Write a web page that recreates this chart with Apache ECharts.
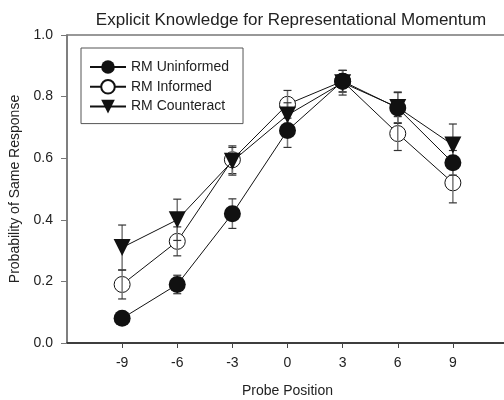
<!DOCTYPE html>
<html>
<head>
<meta charset="utf-8">
<script src="https://cdn.jsdelivr.net/npm/echarts@6/dist/echarts.min.js"></script>
<style>
  html, body { margin: 0; padding: 0; background: #fff; }
  #chart { width: 504px; height: 400px; }
</style>
</head>
<body>
<div id="chart"></div>
<script>
const FONT_FAMILY = "'Liberation Sans', Arial, sans-serif"

const probePositions = [-9, -6, -3, 0, 3, 6, 9]
const uninformed = [0.08, 0.19, 0.42, 0.69, 0.85, 0.763, 0.585]
const uninformedErr = [0.01, 0.03, 0.048, 0.055, 0.035, 0.05, 0.04]
const informed = [0.19, 0.33, 0.595, 0.775, 0.85, 0.68, 0.52]
const informedErr = [0.047, 0.047, 0.045, 0.045, 0.035, 0.055, 0.065]
const counteract = [0.31, 0.40, 0.59, 0.74, 0.845, 0.765, 0.643]
const counteractErr = [0.073, 0.067, 0.045, 0.04, 0.04, 0.05, 0.068]

function points(values) {
  return probePositions.map((x, i) => [x, values[i]])
}

function errorRanges(values, errs) {
  return probePositions.map((x, i) => [x, values[i] - errs[i], values[i] + errs[i]])
}

function renderErrorBar(params, api) {
  const x = api.value(0)
  const lo = api.coord([x, api.value(1)])
  const hi = api.coord([x, api.value(2)])
  const w = 4
  return {
    type: 'group',
    children: [
      { type: 'line', shape: { x1: lo[0], y1: lo[1], x2: hi[0], y2: hi[1] }, style: { stroke: '#777', lineWidth: 1.5 } },
      { type: 'line', shape: { x1: lo[0] - w, y1: lo[1], x2: lo[0] + w, y2: lo[1] }, style: { stroke: '#333', lineWidth: 1.2 } },
      { type: 'line', shape: { x1: hi[0] - w, y1: hi[1], x2: hi[0] + w, y2: hi[1] }, style: { stroke: '#333', lineWidth: 1.2 } },
    ],
  }
}

function errorSeries(values, errs, z) {
  return {
    type: 'custom',
    renderItem: renderErrorBar,
    data: errorRanges(values, errs),
    z: z,
    silent: true,
  }
}

const chart = echarts.init(document.getElementById('chart'), null, { renderer: 'canvas' })

chart.setOption({
  animation: false,
  textStyle: { fontFamily: FONT_FAMILY },
  title: {
    text: 'Explicit Knowledge for Representational Momentum',
    left: 286,
    textAlign: 'center',
    top: 7,
    textStyle: { fontFamily: FONT_FAMILY, fontSize: 17, fontWeight: 'normal', color: '#222' },
  },
  grid: {
    left: 67, top: 35, width: 441, height: 308,
    outerBoundsMode: 'none',
    show: true, borderColor: '#777', borderWidth: 1.5, backgroundColor: 'transparent',
  },
  legend: {
    orient: 'vertical',
    left: 81, top: 48,
    padding: [12, 14, 10, 8],
    itemGap: 5,
    itemWidth: 36, itemHeight: 17,
    borderColor: '#555', borderWidth: 1,
    data: ['RM Uninformed', 'RM Informed', 'RM Counteract'],
    textStyle: { fontFamily: FONT_FAMILY, fontSize: 14, color: '#222' },
  },
  xAxis: {
    type: 'value',
    min: -12, max: 12, interval: 3,
    name: 'Probe Position',
    nameLocation: 'middle',
    nameGap: 41,
    nameTextStyle: { fontFamily: FONT_FAMILY, fontSize: 14, color: '#222' },
    axisLine: { onZero: false, lineStyle: { color: '#222', width: 1.5 } },
    axisTick: { length: 5, customValues: probePositions, lineStyle: { color: '#444' } },
    axisLabel: { margin: 13, fontSize: 14, color: '#222', customValues: probePositions },
    splitLine: { show: false },
  },
  yAxis: {
    type: 'value',
    min: 0, max: 1, interval: 0.2,
    name: 'Probability of Same Response',
    nameLocation: 'middle',
    nameGap: 29,
    nameTextStyle: { fontFamily: FONT_FAMILY, fontSize: 14, color: '#222' },
    axisLine: { show: true, onZero: false, lineStyle: { color: '#777', width: 1.5 } },
    axisTick: { show: true, length: 6, lineStyle: { color: '#777' } },
    axisLabel: { margin: 14, fontSize: 14, color: '#222', formatter: v => v.toFixed(1) },
    splitLine: { show: false },
  },
  series: [
    {
      name: 'RM Informed',
      type: 'line',
      data: points(informed),
      symbol: 'circle', symbolSize: 16,
      lineStyle: { color: '#111', width: 1 },
      itemStyle: { color: '#fff', borderColor: '#111', borderWidth: 1 },
      z: 2,
    },
    errorSeries(informed, informedErr, 3),
    {
      name: 'RM Counteract',
      type: 'line',
      data: points(counteract),
      symbol: 'triangle', symbolSize: 17, symbolRotate: 180,
      lineStyle: { color: '#111', width: 1 },
      itemStyle: { color: '#111', borderColor: '#111', borderWidth: 0 },
      z: 4,
    },
    errorSeries(counteract, counteractErr, 3),
    {
      name: 'RM Uninformed',
      type: 'line',
      data: points(uninformed),
      symbol: 'circle', symbolSize: 17,
      lineStyle: { color: '#111', width: 1 },
      itemStyle: { color: '#111', borderColor: '#111', borderWidth: 0 },
      z: 5,
    },
    errorSeries(uninformed, uninformedErr, 3),
  ],
})
</script>
</body>
</html>
